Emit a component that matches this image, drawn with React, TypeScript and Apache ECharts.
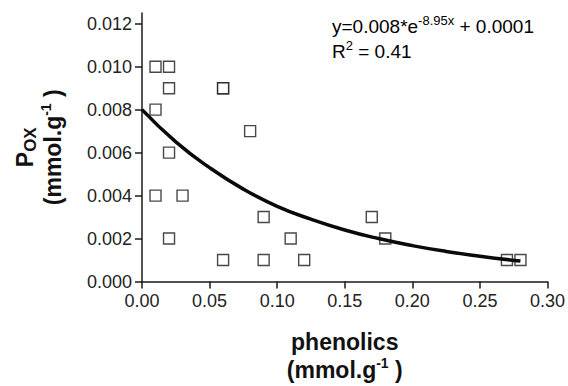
import React, { useEffect, useRef } from "react";
import * as echarts from "echarts";

const phenolics = [0.01, 0.02, 0.02, 0.06, 0.06, 0.01, 0.08, 0.02, 0.01, 0.03, 0.09, 0.02, 0.11, 0.06, 0.09, 0.12, 0.17, 0.18, 0.27, 0.28];
const pox = [0.010, 0.010, 0.009, 0.009, 0.009, 0.008, 0.007, 0.006, 0.004, 0.004, 0.003, 0.002, 0.002, 0.001, 0.001, 0.001, 0.003, 0.002, 0.001, 0.001];

const fitX = [0, 0.025, 0.05, 0.075, 0.1, 0.125, 0.15, 0.175, 0.2, 0.225, 0.25, 0.28];
const fitY = [0.0080, 0.0065, 0.0053, 0.0043, 0.0035, 0.0029, 0.0024, 0.0020, 0.00167, 0.0014, 0.00118, 0.00095];

const yTicks = [0, 0.002, 0.004, 0.006, 0.008, 0.010, 0.012];
const xTicks = [0, 0.05, 0.1, 0.15, 0.2, 0.25, 0.3];

const FONT = "'Liberation Sans', Arial, Helvetica, sans-serif";

export default function App() {
  const ref = useRef<HTMLDivElement>(null);
  useEffect(() => {
    document.body.style.margin = "0";
    const chart = echarts.init(ref.current!, null, { renderer: "svg" });
    chart.setOption({
      animation: false,
      backgroundColor: "#ffffff",
      grid: { left: 142, right: 17, top: 13, bottom: 103 },
      xAxis: {
        type: "value",
        min: 0,
        max: 0.3,
        interval: 0.05,
        splitLine: { show: false },
        axisLine: { lineStyle: { color: "#1a1a1a", width: 1.5 } },
        axisTick: { length: 7, lineStyle: { color: "#1a1a1a", width: 1.5 }, customValues: xTicks },
        axisLabel: {
          customValues: xTicks,
          formatter: (v: number) => v.toFixed(2),
          fontFamily: FONT,
          fontSize: 18,
          color: "#222",
          margin: 10,
        },
        name: "{b|phenolics}\n{b|(mmol.g}{s|-1}{b| )}",
        nameLocation: "middle",
        nameGap: 46,
        nameTextStyle: {
          fontFamily: FONT,
          rich: {
            b: { fontFamily: FONT, fontSize: 23, fontWeight: "bold", color: "#111", lineHeight: 28 },
            s: { fontFamily: FONT, fontSize: 14, fontWeight: "bold", color: "#111", lineHeight: 16, verticalAlign: "top" },
          },
        },
      },
      yAxis: {
        type: "value",
        min: 0,
        max: 0.0125,
        splitLine: { show: false },
        axisLine: { lineStyle: { color: "#1a1a1a", width: 1.5 } },
        axisTick: { length: 7, lineStyle: { color: "#1a1a1a", width: 1.5 }, customValues: yTicks },
        axisLabel: {
          customValues: yTicks,
          formatter: (v: number) => v.toFixed(3),
          fontFamily: FONT,
          fontSize: 18,
          color: "#222",
          margin: 10,
        },
        name: "{b|P}{sub|OX}\n{b|(mmol.g}{s|-1}{b| )}",
        nameLocation: "middle",
        nameRotate: 90,
        nameGap: 75,
        nameTextStyle: {
          fontFamily: FONT,
          rich: {
            b: { fontFamily: FONT, fontSize: 23, fontWeight: "bold", color: "#111", lineHeight: 28 },
            s: { fontFamily: FONT, fontSize: 14, fontWeight: "bold", color: "#111", lineHeight: 16, verticalAlign: "top" },
            sub: { fontFamily: FONT, fontSize: 17, fontWeight: "bold", color: "#111", lineHeight: 20, verticalAlign: "bottom" },
          },
        },
      },
      graphic: [
        {
          type: "text",
          left: 332,
          top: 14,
          style: {
            text: "{m|y=0.008*e}{s|-8.95x}{m| + 0.0001}\n{m|R}{s|2}{m| = 0.41}",
            rich: {
              m: { fontFamily: FONT, fontSize: 19, color: "#111", lineHeight: 25 },
              s: { fontFamily: FONT, fontSize: 13, color: "#111", lineHeight: 14, verticalAlign: "top" },
            },
          },
        },
      ],
      series: [
        {
          type: "scatter",
          data: phenolics.map((x, i) => [x, pox[i]]),
          symbol: "rect",
          symbolSize: 11,
          itemStyle: { color: "#ffffff", borderColor: "#1a1a1a", borderWidth: 1.4 },
          z: 2,
        },
        {
          type: "line",
          data: fitX.map((x, i) => [x, fitY[i]]),
          smooth: 0.5,
          showSymbol: false,
          lineStyle: { color: "#0a0a0a", width: 3.5 },
          z: 3,
        },
      ],
    });
    return () => chart.dispose();
  }, []);
  return <div ref={ref} style={{ width: 568, height: 386 }} />;
}
